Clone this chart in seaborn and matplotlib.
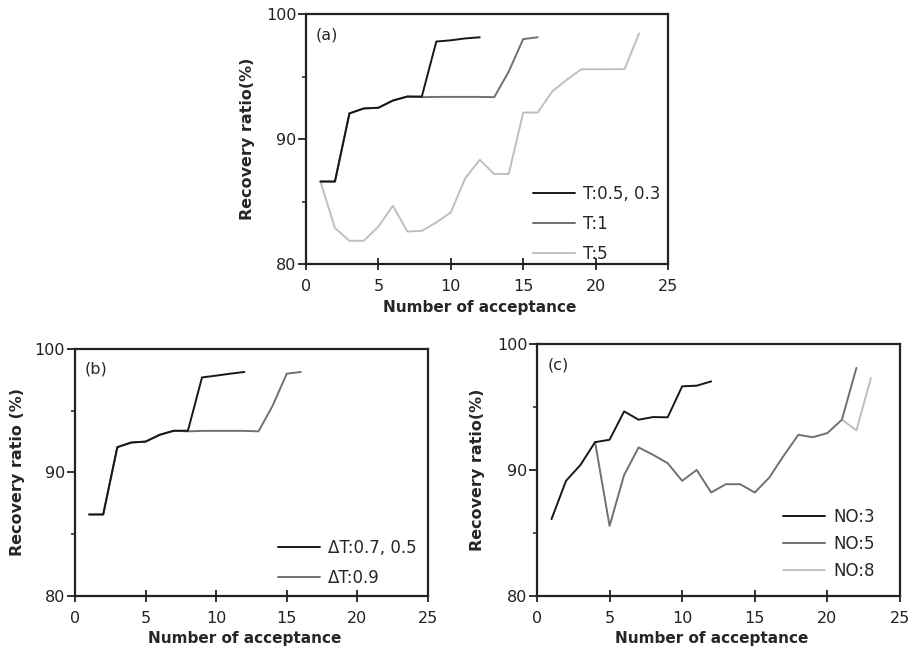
import matplotlib
matplotlib.use("Agg")
import matplotlib.pyplot as plt
import seaborn as sns
import pandas as pd
from matplotlib.ticker import MultipleLocator

# ---------------- data ----------------
a_x_black = list(range(1, 13))
a_y_black = [86.6, 86.6, 92.05, 92.45, 92.5, 93.08, 93.4, 93.4, 97.8, 97.9, 98.05, 98.14]
a_x_grey = list(range(1, 17))
a_y_grey = [86.6, 86.6, 92.05, 92.45, 92.5, 93.08, 93.4, 93.35, 93.37, 93.37, 93.37,
            93.37, 93.35, 95.4, 98.0, 98.14]
a_x_light = list(range(1, 24))
a_y_light = [86.6, 82.88, 81.86, 81.86, 83.0, 84.66, 82.6, 82.66, 83.33, 84.13, 86.87,
             88.34, 87.2, 87.2, 92.12, 92.12, 93.8, 94.73, 95.58, 95.58, 95.58, 95.6, 98.45]
a_labels = ["T:0.5, 0.3", "T:1", "T:5"]

b_x_black = list(range(1, 13))
b_y_black = [86.6, 86.6, 92.05, 92.43, 92.5, 93.05, 93.38, 93.38, 97.7, 97.84, 98.0, 98.14]
b_x_grey = list(range(1, 17))
b_y_grey = [86.6, 86.6, 92.05, 92.43, 92.5, 93.05, 93.38, 93.33, 93.37, 93.37, 93.37,
            93.37, 93.33, 95.4, 98.0, 98.14]
b_labels = ["\u0394T:0.7, 0.5", "\u0394T:0.9"]

c_x_black = list(range(1, 13))
c_y_black = [86.1, 89.14, 90.41, 92.21, 92.4, 94.65, 93.99, 94.2, 94.18, 96.64, 96.69, 97.03]
c_x_grey = list(range(4, 23))
c_y_grey = [92.21, 85.56, 89.6, 91.79, 91.2, 90.54, 89.14, 90.0, 88.21, 88.87, 88.87,
            88.21, 89.4, 91.15, 92.79, 92.6, 92.93, 93.99, 98.1]
c_x_light = [21, 22, 23]
c_y_light = [93.99, 93.14, 97.3]
c_labels = ["NO:3", "NO:5", "NO:8"]

colors = ["#181818", "#707070", "#bfbfbf"]

# ---------------- style ----------------
sns.set_style("ticks")
plt.rcParams["font.family"] = ["DejaVu Sans"]

fig = plt.figure(figsize=(9.12, 6.5), dpi=100)
ax_a = fig.add_axes([0.3355, 0.5938, 0.397, 0.3846])
ax_b = fig.add_axes([0.0822, 0.0831, 0.387, 0.38])
ax_c = fig.add_axes([0.5888, 0.0831, 0.398, 0.3877])


def make_df(xs, ys, labels):
    frames = []
    for x, y, lab in zip(xs, ys, labels):
        frames.append(pd.DataFrame({"x": x, "y": y, "series": lab}))
    return pd.concat(frames, ignore_index=True)


def draw(ax, xs, ys, labels, ylabel, tag, leg_anchor, labelspacing, ylab_x, xlab_y):
    df = make_df(xs, ys, labels)
    pal = dict(zip(labels, colors[:len(labels)]))
    # draw lighter series first so black lies on top
    for lab in reversed(labels):
        sub = df[df["series"] == lab]
        sns.lineplot(data=sub, x="x", y="y", color=pal[lab], lw=1.4, ax=ax,
                     label=lab, estimator=None, sort=False)
    ax.set_xlim(0, 25)
    ax.set_ylim(80, 100)
    ax.xaxis.set_major_locator(MultipleLocator(5))
    ax.yaxis.set_major_locator(MultipleLocator(10))
    ax.yaxis.set_minor_locator(MultipleLocator(5))
    ax.tick_params(axis="x", which="major", direction="inout", length=9, width=1.3,
                   labelsize=11.5, pad=6, colors="#222222")
    ax.tick_params(axis="y", which="major", direction="out", length=6, width=1.3,
                   labelsize=11.5, pad=1, colors="#222222")
    ax.tick_params(axis="y", which="minor", direction="out", length=3, width=1.1,
                   colors="#222222")
    for s in ax.spines.values():
        s.set_linewidth(1.6)
        s.set_color("#222222")
    ax.set_xlabel("Number of acceptance", fontsize=11, fontweight="bold")
    ax.set_ylabel(ylabel, fontsize=11.5, fontweight="bold")
    ax.yaxis.set_label_coords(ylab_x, 0.5)
    ax.xaxis.set_label_coords(0.481, xlab_y)
    ax.text(0.028, 0.918, tag, transform=ax.transAxes, fontsize=11.5, va="center", ha="left")
    handles, labs = ax.get_legend_handles_labels()
    order = [labs.index(l) for l in labels]
    ax.legend([handles[i] for i in order], [labs[i] for i in order],
              loc="upper left", bbox_to_anchor=leg_anchor, frameon=False,
              fontsize=12, handlelength=2.5, handletextpad=0.5,
              labelspacing=labelspacing, borderpad=0, borderaxespad=0)


draw(ax_a, [a_x_black, a_x_grey, a_x_light], [a_y_black, a_y_grey, a_y_light],
     a_labels, "Recovery ratio(%)", "(a)", (0.627, 0.316), 0.72, -0.141, -0.145)
draw(ax_b, [b_x_black, b_x_grey], [b_y_black, b_y_grey],
     b_labels, "Recovery ratio (%)", "(b)", (0.575, 0.232), 0.72, -0.142, -0.142)
draw(ax_c, [c_x_black, c_x_grey, c_x_light], [c_y_black, c_y_grey, c_y_light],
     c_labels, "Recovery ratio(%)", "(c)", (0.678, 0.35), 0.54, -0.143, -0.14)

fig.savefig("out.png", dpi=100)
